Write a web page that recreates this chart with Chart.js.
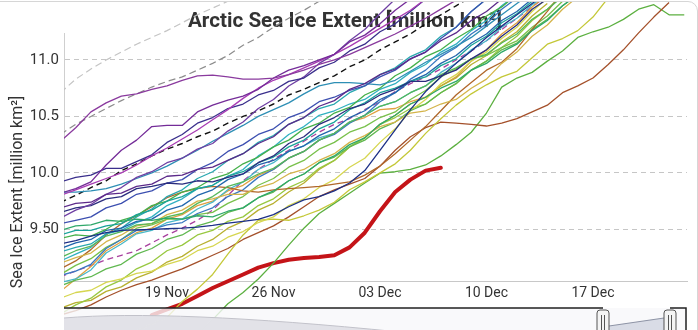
<!DOCTYPE html>
<html>
<head>
<meta charset="utf-8">
<script src="https://cdn.jsdelivr.net/npm/chart.js@4/dist/chart.umd.min.js"></script>
<style>
  html, body { margin: 0; padding: 0; background: #fff; width: 698px; height: 330px; overflow: hidden; }
  #card { position: absolute; left: -20px; top: 1px; width: 716px; height: 360px; border: 1px solid #d6d6d6; border-radius: 10px; overflow: hidden; background: #fff; }
  #wrap { position: absolute; left: 19px; top: -2px; width: 698px; height: 330px; }
</style>
</head>
<body>
<div id="card"><div id="wrap"><canvas id="c" width="698" height="330"></canvas></div></div>
<script>
// Day of the season: November day number, December days continue as 30 + day.
const days = [12,13,14,15,16,17,18,19,20,21,22,23,24,25,26,27,28,29,30,31,32,33,34,35,36,37,38,39,40,41,42,43,44,45,46,47,48,49,50,51,52,53,54];

const xTickValues = [19, 26, 33, 40, 47];
const xTickLabels = ['19 Nov', '26 Nov', '03 Dec', '10 Dec', '17 Dec'];
const yTickValues = [9.5, 10, 10.5, 11];
const yTickLabels = ['9.50', '10.0', '10.5', '11.0'];

const chartTitle = 'Arctic Sea Ice Extent [million km²]';
const yAxisTitle = 'Sea Ice Extent [million km²]';

// Daily extent per past year (million km²), first value is day 12.
const purpleHigh  = [10.28,10.40,10.54,10.62,10.68,10.70,10.74,10.77,10.82,10.86,10.865,10.85,10.83,10.83,10.84,10.87,10.91,10.96,11.0,11.05,11.11,11.17,11.23,11.30,11.37,11.45,11.53];
const purpleTwo   = [9.82,9.86,9.92,10.07,10.20,10.29,10.41,10.42,10.42,10.54,10.60,10.645,10.68,10.74,10.84,10.91,10.95,11.0,11.05,11.16,11.22,11.32,11.44,11.54];
const magenta     = [9.80,9.85,9.90,9.95,10.0,10.07,10.15,10.22,10.30,10.38,10.47,10.56,10.66,10.75,10.82,10.87,10.93,10.99,11.05,11.12,11.2,11.28,11.36,11.44,11.54];
const indigo      = [9.92,9.96,9.98,10.04,10.04,10.10,10.16,10.27,10.34,10.44,10.49,10.57,10.61,10.69,10.73,10.81,10.84,10.93,10.98,11.08,11.14,11.25,11.32,11.43,11.54];
const violetDark  = [9.69,9.73,9.74,9.81,9.82,9.88,9.90,9.97,9.98,10.03,10.05,10.11,10.17,10.26,10.32,10.43,10.49,10.59,10.64,10.74,10.79,10.87,10.92,11.01,11.07,11.17,11.24,11.35,11.43,11.54];
const violet      = [9.60,9.67,9.72,9.81,9.87,9.96,10.01,10.09,10.13,10.21,10.26,10.37,10.45,10.57,10.65,10.77,10.85,10.97,11.05,11.17,11.27,11.41,11.54];
const navyOne     = [9.65,9.69,9.71,9.77,9.79,9.86,9.88,9.91,9.90,9.93,9.92,9.96,9.99,10.09,10.15,10.26,10.32,10.43,10.49,10.57,10.61,10.69,10.74,10.81,10.81,10.86,10.91,11.01,11.09,11.21,11.31,11.45,11.54];
const blueViolet  = [9.55,9.58,9.61,9.69,9.73,9.81,9.84,9.91,9.94,10.03,10.09,10.19,10.25,10.34,10.39,10.49,10.54,10.63,10.67,10.73,10.77,10.85,10.91,11.01,11.07,11.19,11.29,11.43,11.54];
const tealBlue    = [9.83,9.83,9.84,9.86,9.90,9.95,10.0,10.06,10.13,10.20,10.28,10.35,10.42,10.50,10.56,10.62,10.70,10.77,10.80,10.80,10.79,10.78,10.82,10.90,10.98,11.05,11.12,11.2,11.3,11.4,11.5,11.6];
const navyFlat    = [9.37,9.40,9.44,9.47,9.49,9.495,9.50,9.505,9.51,9.52,9.535,9.555,9.57,9.588,9.63,9.70,9.76,9.79,9.84,9.91,10.02,10.20,10.38,10.56,10.72,10.85,10.97,11.08,11.2,11.3,11.4,11.5,11.6];
const greenFlat   = [9.49,9.53,9.54,9.58,9.57,9.59,9.58,9.60,9.59,9.62,9.61,9.66,9.69,9.78,9.84,9.93,9.99,10.09,10.15,10.25,10.31,10.43,10.51,10.61,10.67,10.75,10.81,10.91,10.97,11.07,11.14,11.26,11.35,11.48,11.58];
const tealGreen   = [9.45,9.49,9.49,9.53,9.55,9.63,9.67,9.75,9.79,9.86,9.89,9.97,10.01,10.09,10.14,10.23,10.29,10.39,10.45,10.56,10.62,10.71,10.75,10.81,10.85,10.95,11.01,11.13,11.21,11.33,11.41,11.52];
const greenTwo    = [9.42,9.45,9.44,9.50,9.58,9.62,9.71,9.75,9.83,9.87,9.95,9.99,10.08,10.14,10.23,10.29,10.39,10.44,10.53,10.58,10.69,10.75,10.86,10.93,11.03,11.09,11.19,11.27,11.39,11.47,11.58];
const blueTwo     = [9.33,9.38,9.41,9.49,9.51,9.57,9.59,9.67,9.71,9.80,9.85,9.94,9.99,10.07,10.11,10.19,10.24,10.33,10.39,10.49,10.55,10.65,10.71,10.81,10.87,10.97,11.04,11.15,11.23,11.35,11.43,11.54];
const cyanSteep   = [9.30,9.34,9.37,9.46,9.51,9.61,9.68,9.79,9.85,9.95,10.01,10.11,10.17,10.27,10.33,10.43,10.49,10.57,10.61,10.71,10.77,10.87,10.93,11.03,11.09,11.21,11.29,11.43,11.54];
const greenThree  = [9.25,9.31,9.35,9.44,9.48,9.54,9.55,9.61,9.64,9.73,9.79,9.88,9.92,9.99,10.04,10.13,10.19,10.29,10.35,10.45,10.51,10.59,10.63,10.71,10.77,10.87,10.93,11.01,11.05,11.15,11.23,11.36,11.45,11.56];
const cyanThree   = [9.22,9.28,9.34,9.46,9.49,9.56,9.61,9.71,9.77,9.86,9.89,9.97,10.03,10.15,10.23,10.34,10.41,10.51,10.55,10.61,10.65,10.74,10.79,10.89,10.96,11.07,11.14,11.26,11.35,11.48,11.58];
const gold        = [9.20,9.25,9.29,9.39,9.45,9.53,9.55,9.63,9.67,9.75,9.77,9.81,9.81,9.87,9.91,9.99,10.03,10.11,10.17,10.27,10.33,10.41,10.45,10.53,10.55,10.61,10.65,10.75,10.83,10.97,11.07,11.21,11.31,11.45,11.56];
const brownFlat   = [9.15,9.22,9.32,9.45,9.55,9.62,9.70,9.78,9.83,9.86,9.88,9.87,9.84,9.83,9.85,9.86,9.87,9.88,9.90,9.92,9.98,10.06,10.17,10.29,10.41,10.55,10.69,10.80,10.91,10.98,11.10,11.27,11.43,11.60];
const blueThree   = [9.09,9.13,9.19,9.33,9.41,9.49,9.50,9.54,9.56,9.64,9.69,9.79,9.85,9.96,10.03,10.13,10.19,10.29,10.34,10.44,10.51,10.63,10.71,10.83,10.91,11.03,11.11,11.23,11.32,11.45,11.55];
const cyanLight   = [9.03,9.06,9.14,9.29,9.37,9.46,9.49,9.56,9.59,9.68,9.74,9.85,9.92,10.03,10.09,10.19,10.24,10.31,10.35,10.45,10.51,10.59,10.63,10.71,10.77,10.89,10.97,11.09,11.17,11.29,11.37,11.49,11.58];
const limeGreen   = [9.10,9.18,9.24,9.34,9.41,9.51,9.54,9.59,9.59,9.63,9.65,9.73,9.79,9.89,9.95,10.05,10.11,10.21,10.27,10.36,10.41,10.49,10.54,10.65,10.73,10.85,10.92,11.01,11.04,11.11,11.17,11.29,11.39,11.52];
const greenFour   = [9.00,9.05,9.08,9.15,9.19,9.28,9.33,9.41,9.45,9.53,9.57,9.65,9.69,9.78,9.83,9.93,9.99,10.09,10.14,10.23,10.29,10.39,10.45,10.55,10.61,10.71,10.79,10.91,10.99,11.09,11.15,11.27,11.36,11.48,11.58];
const paleYellow  = [8.89,8.94,8.96,9.03,9.06,9.11,9.13,9.19,9.23,9.31,9.35,9.43,9.48,9.56,9.61,9.71,9.77,9.87,9.94,10.05,10.13,10.27,10.39,10.55,10.65,10.79,10.87,10.99,11.07,11.19,11.29,11.43,11.55];
const yellowGreen = [8.75,8.83,8.89,8.99,9.05,9.15,9.21,9.31,9.36,9.45,9.49,9.57,9.61,9.71,9.77,9.87,9.93,10.04,10.11,10.23,10.31,10.43,10.49,10.57,10.61,10.71,10.79,10.91,10.99,11.11,11.21,11.35,11.45,11.58];
const olive       = [8.80,8.85,8.87,8.95,8.99,9.07,9.12,9.21,9.26,9.35,9.41,9.51,9.57,9.67,9.73,9.83,9.91,10.03,10.11,10.23,10.31,10.43,10.51,10.61,10.67,10.77,10.84,10.96,11.04,11.16,11.25,11.39,11.50];
const orange      = [8.95,9.06,9.17,9.31,9.39,9.47,9.51,9.59,9.63,9.71,9.75,9.84,9.89,9.98,10.03,10.13,10.19,10.29,10.35,10.45,10.49,10.56,10.57,10.63,10.67,10.77,10.85,10.99,11.09,11.23,11.33,11.47,11.58];
const yellowLate  = [null,null,null,null,null,8.60,8.66,8.72,8.86,8.97,9.10,9.28,9.45,9.58,9.59,9.58,9.62,9.67,9.74,9.85,9.92,10.0,10.08,10.2,10.35,10.48,10.60,10.70,10.78,10.85,10.90,11.02,11.14,11.19,11.26,11.38,11.55];
const brownLate   = [8.74,8.78,8.83,8.90,8.96,9.01,9.05,9.10,9.15,9.21,9.27,9.33,9.41,9.47,9.53,9.61,9.70,9.79,9.85,9.90,9.95,10.06,10.20,10.32,10.40,10.45,10.44,10.43,10.415,10.44,10.48,10.54,10.60,10.71,10.77,10.84,10.96,11.09,11.24,11.38,11.51];
const greenLate   = [null,null,null,null,null,null,null,null,8.44,8.57,8.70,8.84,8.94,9.06,9.20,9.36,9.51,9.64,9.73,9.82,9.91,9.997,10.01,10.03,10.07,10.15,10.25,10.36,10.53,10.76,10.84,10.89,10.99,11.08,11.20,11.25,11.29,11.36,11.45,11.49,11.40,11.40];

// Reference curves (dashed)
const rangeUpper  = [10.71,10.83,10.92,11.0,11.07,11.14,11.2,11.26,11.33,11.40,11.46,11.52,11.58];
const rangeMid    = [10.34,10.43,10.50,10.57,10.64,10.70,10.76,10.81,10.85,10.91,10.97,11.04,11.13,11.20,11.29,11.37,11.44,11.52,11.6];
const meanLong    = [9.74,9.80,9.87,9.93,10.02,10.08,10.15,10.21,10.26,10.32,10.37,10.44,10.5,10.55,10.61,10.69,10.74,10.80,10.86,10.94,11.0,11.09,11.16,11.23,11.32,11.40,11.48,11.56];
const meanRecent  = [9.08,9.13,9.18,9.23,9.27,9.31,9.38,9.45,9.51,9.58,9.67,9.80,9.93,10.03,10.12,10.20,10.28,10.36,10.43,10.48,10.56,10.63,10.72,10.79,10.85,10.92,11.0,11.08,11.17,11.27,11.37,11.47,11.57];

// Current season
const currentYear = [null,null,null,null,null,null,8.74,8.79,8.84,8.91,8.98,9.04,9.10,9.16,9.20,9.23,9.245,9.255,9.27,9.34,9.47,9.66,9.83,9.94,10.02,10.045];

const pastYears = [
  [purpleHigh, '#8a3a9e'], [purpleTwo, '#742c98'], [magenta, '#a83cb4'], [indigo, '#3a2f8c'],
  [violetDark, '#5c2a8a'], [violet, '#6f3fa3'], [navyOne, '#2b2d7e'], [blueViolet, '#3c4fb0'],
  [tealBlue, '#2e8fb5'], [navyFlat, '#1c2f86'], [greenFlat, '#2fa86a'], [tealGreen, '#1aa39a'],
  [greenTwo, '#45b04a'], [blueTwo, '#2166ac'], [cyanSteep, '#29a8b0'], [greenThree, '#55b85a'],
  [cyanThree, '#30b0c0'], [gold, '#d4b44a'], [brownFlat, '#b0672a'], [blueThree, '#3a78c0'],
  [cyanLight, '#48b8c8'], [limeGreen, '#78c04a'], [greenFour, '#60b850'], [paleYellow, '#d6d650'],
  [yellowGreen, '#98c840'], [olive, '#b8b030'], [orange, '#e0a040'], [yellowLate, '#c4c838'],
  [brownLate, '#a4502a'], [greenLate, '#5cb040']
];

function toPoints(vals) {
  const pts = [];
  vals.forEach((v, i) => { if (v !== null && v !== undefined) pts.push({ x: days[i], y: v }); });
  return pts;
}

const noClip = { left: 0, top: false, right: false, bottom: false };

const datasets = [];
pastYears.forEach(([vals, color]) => {
  datasets.push({ data: toPoints(vals), borderColor: color, borderWidth: 1.3, pointRadius: 0, tension: 0,
    borderJoinStyle: 'round', clip: noClip });
});
datasets.push({ data: toPoints(rangeUpper), borderColor: '#c4c4c4', borderWidth: 1.2, borderDash: [7, 4], pointRadius: 0, clip: noClip });
datasets.push({ data: toPoints(rangeMid), borderColor: '#8c8c8c', borderWidth: 1.2, borderDash: [7, 4], pointRadius: 0, clip: noClip });
datasets.push({ data: toPoints(meanRecent), borderColor: '#a8409e', borderWidth: 1.3, borderDash: [6, 4], pointRadius: 0, clip: noClip });
datasets.push({ data: toPoints(meanLong), borderColor: '#111111', borderWidth: 1.4, borderDash: [6, 4], pointRadius: 0, clip: noClip });
datasets.push({ data: toPoints(currentYear), borderColor: '#c41418', borderWidth: 4, pointRadius: 0,
  borderJoinStyle: 'round', borderCapStyle: 'round', clip: noClip });

// Chart and axis titles, drawn underneath the series lines
const titlesPlugin = {
  id: 'titles',
  beforeDatasetsDraw(chart) {
    const ctx = chart.ctx;
    ctx.save();
    ctx.fillStyle = '#333333';
    ctx.font = 'bold 20.7px Roboto';
    ctx.textAlign = 'center';
    ctx.textBaseline = 'alphabetic';
    ctx.fillText(chartTitle, 345, 27);
    ctx.translate(18, 192);
    ctx.rotate(-Math.PI / 2);
    ctx.font = '16px Roboto';
    ctx.textBaseline = 'middle';
    ctx.fillText(yAxisTitle, 0, 0);
    ctx.restore();
  }
};

// Range-selector strip underneath the x axis
const navigatorPlugin = {
  id: 'navigator',
  afterDraw(chart) {
    const ctx = chart.ctx;
    const L = chart.chartArea.left, R = chart.chartArea.right;
    const T = 308, B = chart.height;
    const h1 = 603, h2 = 670;
    ctx.save();
    // faded mask over the strip
    ctx.fillStyle = 'rgba(247,247,250,0.8)';
    ctx.fillRect(L, T, R - L, B - T);
    // overview series silhouette
    ctx.beginPath();
    ctx.moveTo(L, 318);
    ctx.quadraticCurveTo(170, 309, 400, 332);
    ctx.lineTo(L, 332);
    ctx.closePath();
    ctx.fillStyle = 'rgba(226,226,232,0.95)';
    ctx.fill();
    ctx.beginPath();
    ctx.moveTo(L, 318);
    ctx.quadraticCurveTo(170, 309, 400, 332);
    ctx.strokeStyle = '#c2c2ca';
    ctx.lineWidth = 1;
    ctx.stroke();
    // selected window
    ctx.beginPath();
    ctx.moveTo(h1 + 6, 326);
    ctx.lineTo(h2 - 6, 318);
    ctx.lineTo(h2 - 6, B);
    ctx.lineTo(h1 + 6, B);
    ctx.closePath();
    ctx.fillStyle = '#d9dce6';
    ctx.fill();
    ctx.beginPath();
    ctx.moveTo(h1 + 6, 326);
    ctx.lineTo(h2 - 6, 318);
    ctx.strokeStyle = '#8e94a6';
    ctx.lineWidth = 1.2;
    ctx.stroke();
    // outline
    ctx.strokeStyle = '#222';
    ctx.lineWidth = 1.5;
    ctx.beginPath();
    ctx.moveTo(L, T); ctx.lineTo(h1, T);
    ctx.moveTo(h2, T); ctx.lineTo(R - 1, T); ctx.lineTo(R - 1, B);
    ctx.stroke();
    // handles
    [h1, h2].forEach(cx => {
      const w = 12, top = 310;
      ctx.beginPath();
      ctx.moveTo(cx - w / 2, B);
      ctx.lineTo(cx - w / 2, top + 3);
      ctx.quadraticCurveTo(cx - w / 2, top, cx - w / 2 + 3, top);
      ctx.lineTo(cx + w / 2 - 3, top);
      ctx.quadraticCurveTo(cx + w / 2, top, cx + w / 2, top + 3);
      ctx.lineTo(cx + w / 2, B);
      ctx.fillStyle = '#f4f4f4';
      ctx.fill();
      ctx.strokeStyle = '#555';
      ctx.lineWidth = 1;
      ctx.stroke();
      ctx.beginPath();
      ctx.moveTo(cx - 1.5, top + 5); ctx.lineTo(cx - 1.5, B);
      ctx.moveTo(cx + 1.5, top + 5); ctx.lineTo(cx + 1.5, B);
      ctx.stroke();
    });
    ctx.restore();
  }
};

function draw() {
  Chart.defaults.font.family = 'Roboto';
  new Chart(document.getElementById('c'), {
    type: 'line',
    data: { datasets },
    options: {
      responsive: false,
      animation: false,
      devicePixelRatio: 1,
      layout: { padding: { top: 33, right: 11, left: 0, bottom: 0 } },
      plugins: { legend: { display: false }, tooltip: { enabled: false }, title: { display: false } },
      scales: {
        x: {
          type: 'linear',
          min: 12.23,
          max: 53.18,
          afterBuildTicks: axis => { axis.ticks = xTickValues.map(v => ({ value: v })); },
          afterFit: s => { s.height = 49; },
          ticks: {
            autoSkip: false, maxRotation: 0, padding: 4,
            color: '#333', font: { size: 14 },
            callback: v => xTickLabels[xTickValues.indexOf(v)]
          },
          grid: { display: false, drawTicks: false },
          border: { display: true, color: '#c8c8c8', width: 1 }
        },
        y: {
          type: 'linear',
          min: 9.042,
          max: 11.239,
          afterBuildTicks: axis => { axis.ticks = yTickValues.map(v => ({ value: v })); },
          afterFit: s => { s.width = 64; },
          ticks: {
            padding: 5, color: '#333', font: { size: 15 },
            callback: v => yTickLabels[yTickValues.indexOf(v)]
          },
          grid: { display: true, color: '#c6c6c6', lineWidth: 1, drawTicks: false },
          border: { display: true, color: '#cfcfcf', width: 1, dash: [5, 4] }
        }
      }
    },
    plugins: [titlesPlugin, navigatorPlugin]
  });
}

if (document.fonts && document.fonts.load) {
  Promise.all([document.fonts.load('15px Roboto'), document.fonts.load('bold 20px Roboto')]).then(draw, draw);
} else {
  draw();
}
</script>
</body>
</html>
